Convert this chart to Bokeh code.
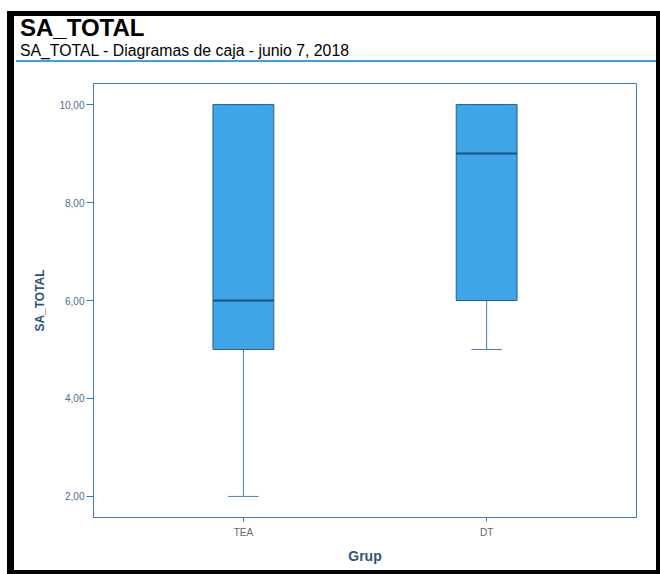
from bokeh.plotting import figure
from bokeh.models import FactorRange, Range1d, FixedTicker, ColumnDataSource, Div
from bokeh.layouts import column
from bokeh.embed import file_html
from bokeh.resources import INLINE

# ---- data ----
groups = ["TEA", "DT"]
q1 = [5.0, 6.0]
median = [6.0, 9.0]
q3 = [10.0, 10.0]
lower = [2.0, 5.0]
upper = [10.0, 10.0]
y_ticks = [2, 4, 6, 8, 10]
y_tick_labels = ["2,00", "4,00", "6,00", "8,00", "10,00"]

title_text = "SA_TOTAL"
subtitle_text = "SA_TOTAL - Diagramas de caja - junio 7, 2018"
x_title = "Grup"
y_title = "SA_TOTAL"

# ---- layout (page pixels) ----
IN_L, IN_T, IN_R, IN_B = 14, 16, 656, 570     # inside of black page border
HEAD_H = 46                                    # header block height
FL, FR, FT, FB = 93, 636, 83, 517              # plot frame
FONT = "Liberation Sans"

fig_w = IN_R - IN_L
fig_h = IN_B - IN_T - HEAD_H
fig_top = IN_T + HEAD_H

p = figure(width=fig_w, height=fig_h,
           x_range=FactorRange(factors=groups, range_padding=0.116, range_padding_units="absolute"),
           y_range=Range1d(1.57, 10.43),
           output_backend="svg", toolbar_location=None, title=None,
           min_border_left=FL - IN_L, min_border_right=IN_R - FR,
           min_border_top=FT - fig_top, min_border_bottom=IN_B - FB)

p.background_fill_color = "white"
p.border_fill_color = "white"
p.outline_line_color = "#3b7cc0"
p.outline_line_width = 1
p.xgrid.visible = False
p.ygrid.visible = False

BOX_W = 0.25
CAP_W = 0.125
WHISK = "#4a7fb5"

src = ColumnDataSource(dict(
    g=groups, q1=q1, med=median, q3=q3, lo=lower, hi=upper,
    box_l=[(g, -BOX_W / 2) for g in groups], box_r=[(g, BOX_W / 2) for g in groups],
    cap_l=[(g, -CAP_W / 2) for g in groups], cap_r=[(g, CAP_W / 2) for g in groups],
))

# whiskers
p.segment(x0="g", y0="lo", x1="g", y1="q1", source=src, line_color=WHISK, line_width=1)
p.segment(x0="g", y0="q3", x1="g", y1="hi", source=src, line_color=WHISK, line_width=1)
p.segment(x0="cap_l", y0="lo", x1="cap_r", y1="lo", source=src, line_color=WHISK, line_width=1)
p.segment(x0="cap_l", y0="hi", x1="cap_r", y1="hi", source=src, line_color=WHISK, line_width=1)
# boxes
p.vbar(x="g", bottom="q1", top="q3", width=BOX_W, source=src,
       fill_color="#3ea6e6", line_color="#2b5e8c", line_width=1)
# medians
p.segment(x0="box_l", y0="med", x1="box_r", y1="med", source=src,
          line_color="#1d4f80", line_width=2)

# axes
yax = p.yaxis[0]
yax.ticker = FixedTicker(ticks=y_ticks)
yax.major_label_overrides = {t: l for t, l in zip(y_ticks, y_tick_labels)}
yax.minor_tick_line_color = None
yax.major_tick_out = 7
yax.major_tick_in = 0
yax.major_tick_line_color = "#3b7cc0"
yax.axis_line_color = "#3b7cc0"
yax.major_label_text_font = FONT
yax.major_label_text_font_size = "10px"
yax.major_label_text_color = "#4a6f96"
yax.major_label_standoff = 2
yax.axis_label = y_title
yax.axis_label_text_font = FONT
yax.axis_label_text_font_style = "bold"
yax.axis_label_text_font_size = "12px"
yax.axis_label_text_color = "#2c5577"
yax.axis_label_standoff = 9

xax = p.xaxis[0]
xax.major_tick_out = 4
xax.major_tick_in = 0
xax.major_tick_line_color = "#3b7cc0"
xax.axis_line_color = "#3b7cc0"
xax.major_label_text_font = FONT
xax.major_label_text_font_size = "10px"
xax.major_label_text_color = "#666666"
xax.major_label_standoff = 5
xax.axis_label = x_title
xax.axis_label_text_font = FONT
xax.axis_label_text_font_style = "bold"
xax.axis_label_text_font_size = "14px"
xax.axis_label_text_color = "#2c5577"
xax.axis_label_standoff = 7

header_html = (
    f'<div style="position:relative;width:{fig_w}px;height:{HEAD_H}px;'
    f'font-family:\'{FONT}\',Arial,sans-serif;color:black;">'
    f'<div style="position:absolute;left:6px;top:0px;font-size:24px;font-weight:bold;'
    f'line-height:24px;white-space:nowrap;">{title_text}</div>'
    f'<div style="position:absolute;left:6px;top:27px;font-size:15.8px;'
    f'line-height:16px;white-space:nowrap;">{subtitle_text}</div>'
    f'<div style="position:absolute;left:2px;top:{HEAD_H - 2}px;width:{fig_w - 2}px;height:2px;'
    f'background:#3d9fe6;"></div>'
    '</div>'
)
header = Div(text=header_html, width=fig_w, height=HEAD_H,
             styles={"margin": "0", "padding": "0"})

page = column(header, p, spacing=0,
              styles={"margin-left": "7px", "margin-top": "11px",
                      "border-style": "solid", "border-color": "black",
                      "border-width": f"{IN_T - 11}px {660 - IN_R}px {574 - IN_B}px {IN_L - 7}px",
                      "box-sizing": "content-box", "background": "white"})

open("out.html", "w").write(file_html(page, INLINE))
